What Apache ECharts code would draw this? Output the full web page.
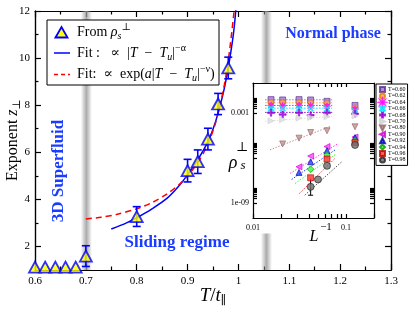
<!DOCTYPE html>
<html><head><meta charset="utf-8">
<script src="https://cdn.jsdelivr.net/npm/echarts@6/dist/echarts.min.js"></script>
<style>html,body{margin:0;padding:0;background:#fff}#c{width:415px;height:312px}</style>
</head><body><div id="c"></div>
<script>
// ---------- main panel data ----------
const tempT   = [0.6, 0.62, 0.64, 0.66, 0.68, 0.7, 0.8, 0.9, 0.92, 0.94, 0.96, 0.98];
const expZ    = [1.12, 1.12, 1.12, 1.12, 1.12, 1.59, 3.27, 5.22, 5.6, 6.56, 8.05, 9.58];
const expErr  = [0, 0, 0, 0, 0, 0.44, 0.42, 0.48, 0.5, 0.46, 0.45, 0.46];
const fitPowT = [0.75, 0.78, 0.8, 0.83, 0.86, 0.885, 0.9, 0.92, 0.94, 0.955, 0.97, 0.98, 0.99, 0.996];
const fitPowZ = [2.74, 3.0, 3.22, 3.6, 4.05, 4.62, 5.05, 5.68, 6.45, 7.3, 8.5, 9.6, 11.0, 12.3];
const fitExpT = [0.7, 0.73, 0.76, 0.8, 0.83, 0.86, 0.885, 0.9, 0.92, 0.94, 0.955, 0.97, 0.98, 0.99, 0.995];
const fitExpZ = [3.17, 3.24, 3.36, 3.6, 3.86, 4.24, 4.66, 5.0, 5.55, 6.35, 7.25, 8.6, 9.9, 11.7, 12.8];
const mainYLabels = [2, 4, 6, 8, 10, 12];
const mainYMinor  = [3, 5, 7, 9, 11];

// ---------- inset data ----------
const insetNames = ['T=0.60','T=0.62','T=0.64','T=0.66','T=0.68','T=0.70','T=0.80','T=0.90','T=0.92','T=0.94','T=0.96','T=0.98'];
const sizesL060 = [64, 48, 32, 24, 16, 8];
const sizesL080 = [48, 32, 24, 16, 8];
const sizesL090 = [32, 24, 16, 8];
const sizesL094 = [24, 16, 8];
const sizesL098 = [24, 20, 16, 8];
const rhoT060 = [7.8e-3, 7.4e-3, 7.8e-3, 7.4e-3, 6.0e-3, 3.2e-3];
const rhoT062 = [4.7e-3, 4.7e-3, 4.7e-3, 4.5e-3, 4.2e-3, 2.2e-3];
const rhoT064 = [3.2e-3, 3.0e-3, 3.2e-3, 3.0e-3, 2.8e-3, 1.8e-3];
const rhoT066 = [2.1e-3, 2.0e-3, 2.1e-3, 2.0e-3, 1.9e-3, 1.3e-3];
const rhoT068 = [1.05e-3, 7.9e-4, 1.05e-3, 7.1e-4, 1.05e-3, 8.9e-4];
const rhoT070 = [3.0e-4, 3.7e-4, 4.6e-4, 5.1e-4, 5.6e-4, 6.3e-4];
const rhoT080 = [8.7e-6, 2.1e-5, 5.0e-5, 6.5e-5, 1.2e-4];
const rhoT090 = [2.6e-7, 1.35e-6, 5.8e-6, 2.5e-5];
const rhoT092 = [1.1e-7, 5.6e-7, 3.1e-6, 2.3e-5];
const rhoT094 = [1.8e-7, 1.6e-6, 1.4e-5];
const rhoT096 = [4.8e-8, 8.5e-7, 1.1e-5];
const rhoT098 = [1.2e-8, 3.7e-8, 3.0e-7, 7.4e-6];
const errT098L = 24, errT098Lo = 3.3e-9, errT098Hi = 4.2e-8;
const insetFitX1 = [0.0135,0.0135,0.0135,0.0135,0.0135,0.0135,0.0152,0.025,0.026,0.0283,0.0315,0.036];
const insetFitX2 = [0.071,0.071,0.071,0.071,0.071,0.071,0.0673,0.081,0.078,0.078,0.0762,0.09];
const insetFitY1 = [7.6e-3,4.8e-3,3.2e-3,2.1e-3,1.1e-3,2.8e-4,3.5e-6,9.3e-8,3.7e-8,2.0e-8,4.3e-9,3.3e-9];
const insetFitY2 = [7.6e-3,4.8e-3,3.2e-3,2.1e-3,1.1e-3,6.0e-4,1.26e-4,8.7e-6,3.8e-6,1.86e-6,9.5e-7,5.6e-7];
const insetXTicks = [0.01,0.02,0.03,0.04,0.05,0.06,0.07,0.08,0.09,0.1,0.2];
const insetXLabels = [0.01, 0.1];
const insetYTicks = [1e-9,2e-9,3e-9,4e-9,5e-9,6e-9,7e-9,8e-9,9e-9,1e-6,2e-6,3e-6,4e-6,5e-6,6e-6,7e-6,8e-6,9e-6,1e-3,2e-3,3e-3,4e-3,5e-3,6e-3,7e-3,8e-3,9e-3];
const insetYLabels = [1e-9, 1e-3];

const SERIF = "'Liberation Serif','DejaVu Serif',serif";
const BLUE_TXT = '#1a3cff';

const insetSets = [
  {L: sizesL060, r: rhoT060, sym: 'rect', size: 6, color: 'rgba(150,100,205,0.9)', border: '#5b2c8f'},
  {L: sizesL060, r: rhoT062, sym: 'circle', size: 6, color: '#ffae42', border: '#e07b00'},
  {L: sizesL060, r: rhoT064, sym: 'path://M10,5L6.85,5.77L8.54,8.54L5.77,6.85L5,10L4.23,6.85L1.46,8.54L3.15,5.77L0,5L3.15,4.23L1.46,1.46L4.23,3.15L5,0L5.77,3.15L8.54,1.46L6.85,4.23Z', size: 7, color: '#ff00ff', border: '#ff00ff'},
  {L: sizesL060, r: rhoT066, sym: 'path://M0,1.5L1.5,0L5,3.5L8.5,0L10,1.5L6.5,5L10,8.5L8.5,10L5,6.5L1.5,10L0,8.5L3.5,5Z', size: 6, color: '#00e5ff', border: '#00e5ff'},
  {L: sizesL060, r: rhoT068, sym: 'path://M4,0H6V4H10V6H6V10H4V6H0V4H4Z', size: 7, color: '#9400d3', border: '#9400d3'},
  {L: sizesL060, r: rhoT070, sym: 'path://M0,0L10,5L0,10Z', size: 6, color: '#dedede', border: '#cfcfcf'},
  {L: sizesL080, r: rhoT080, sym: 'path://M0,0L10,0L5,10Z', size: 6, color: '#c09090', border: '#8e6464'},
  {L: sizesL090, r: rhoT090, sym: 'path://M10,0L0,5L10,10Z', size: 6, color: '#ff40ff', border: '#d000d0'},
  {L: sizesL090, r: rhoT092, sym: 'triangle', size: 6, color: '#1f3fff', border: '#0000a0'},
  {L: sizesL094, r: rhoT094, sym: 'diamond', size: 6.5, color: '#33ff33', border: '#009900'},
  {L: sizesL094, r: rhoT096, sym: 'rect', size: 6, color: '#ff3030', border: '#c00000'},
  {L: sizesL098, r: rhoT098, sym: 'circle', size: 7, color: '#6e6e6e', border: '#1e1e1e'}
];

const series = [];
const bandColor = {type: 'linear', x: 0, y: 0, x2: 1, y2: 0, colorStops: [
  {offset: 0, color: 'rgba(150,150,150,0)'}, {offset: 0.5, color: 'rgba(150,150,150,0.8)'}, {offset: 1, color: 'rgba(150,150,150,0)'}]};

series.push({
  type: 'line', name: 'fitPow', xAxisIndex: 0, yAxisIndex: 0, z: 3,
  data: fitPowT.map((t, i) => [t, fitPowZ[i]]), smooth: 0.3, symbol: 'none',
  lineStyle: {color: '#0000ff', width: 1.5},
  markArea: {silent: true, itemStyle: {color: bandColor}, data: [
    [{xAxis: 0.69}, {xAxis: 0.712}],
    [{xAxis: 1.044, yAxis: 8.94}, {xAxis: 1.066, yAxis: 12}],
    [{xAxis: 1.044, yAxis: 1}, {xAxis: 1.066, yAxis: 2.55}]
  ]}
});
series.push({
  type: 'line', name: 'fitExp', xAxisIndex: 0, yAxisIndex: 0, z: 3,
  data: fitExpT.map((t, i) => [t, fitExpZ[i]]), smooth: 0.3, symbol: 'none',
  lineStyle: {color: '#ff0000', width: 1.5, type: [6, 4]}
});
series.push({
  type: 'custom', name: 'errMain', xAxisIndex: 0, yAxisIndex: 0, z: 4,
  data: tempT.map((t, i) => [t, expZ[i] - expErr[i], expZ[i] + expErr[i]]).filter((d, i) => expErr[i] > 0),
  renderItem: function (params, api) {
    const x = api.value(0), lo = api.value(1), hi = api.value(2);
    const p1 = api.coord([x, hi]), p2 = api.coord([x, lo]);
    const st = {stroke: '#0000ff', lineWidth: 1.6};
    return {type: 'group', children: [
      {type: 'line', shape: {x1: p1[0], y1: p1[1], x2: p2[0], y2: p2[1]}, style: st},
      {type: 'line', shape: {x1: p1[0] - 4, y1: p1[1], x2: p1[0] + 4, y2: p1[1]}, style: st},
      {type: 'line', shape: {x1: p2[0] - 4, y1: p2[1], x2: p2[0] + 4, y2: p2[1]}, style: st}
    ]};
  }
});
series.push({
  type: 'scatter', name: 'main', xAxisIndex: 0, yAxisIndex: 0, z: 5,
  data: tempT.map((t, i) => [t, expZ[i]]), symbol: 'triangle', symbolSize: [12, 11],
  itemStyle: {color: '#ffff00', borderColor: '#0000ff', borderWidth: 1.8}
});

// inset fits
insetSets.forEach((s, k) => {
  series.push({
    type: 'line', name: 'fit' + k, xAxisIndex: 2, yAxisIndex: 4, z: 6, symbol: 'none',
    data: [[insetFitX1[k], insetFitY1[k]], [insetFitX2[k], insetFitY2[k]]],
    lineStyle: {color: s.border === '#1e1e1e' ? '#555' : s.color, width: 1, type: [1.5, 1.5]}
  });
});
series.push({
  type: 'custom', name: 'errInset', xAxisIndex: 2, yAxisIndex: 4, z: 7,
  data: [[1 / errT098L, errT098Lo, errT098Hi]],
  renderItem: function (params, api) {
    const x = api.value(0), lo = api.value(1), hi = api.value(2);
    const p1 = api.coord([x, hi]), p2 = api.coord([x, lo]);
    const st = {stroke: '#000', lineWidth: 1};
    return {type: 'group', children: [
      {type: 'line', shape: {x1: p1[0], y1: p1[1], x2: p2[0], y2: p2[1]}, style: st},
      {type: 'line', shape: {x1: p2[0] - 2.5, y1: p2[1], x2: p2[0] + 2.5, y2: p2[1]}, style: st}
    ]};
  }
});
insetSets.forEach((s, k) => {
  series.push({
    type: 'scatter', name: insetNames[k], xAxisIndex: 2, yAxisIndex: 4, z: 8,
    data: s.L.map((L, i) => [1 / L, s.r[i]]), symbol: s.sym, symbolSize: s.size,
    itemStyle: {color: s.color, borderColor: s.border, borderWidth: 0.8}
  });
});

const axLine = {show: true, lineStyle: {color: '#000', width: 1.2}};
const tickSt = {color: '#000', width: 1.2};
const lblSt = {fontFamily: SERIF, fontSize: 11, color: '#000'};
const inLbl = {fontFamily: SERIF, fontSize: 8, color: '#000'};
const fmtX = v => (Math.abs(v - 0.01) < 1e-6 ? '0.01' : (Math.abs(v - 0.1) < 1e-6 ? '0.1' : ''));
const fmtY = v => (Math.abs(Math.log10(v) + 3) < 0.01 ? '0.001' : (Math.abs(Math.log10(v) + 9) < 0.01 ? '1e-09' : ''));

const mainX = (pos, lbl) => ({
  type: 'value', gridIndex: 0, position: pos, min: 0.6, max: 1.3, interval: 0.1,
  axisLine: axLine, splitLine: {show: false},
  axisTick: {inside: true, length: 6, lineStyle: tickSt},
  minorTick: {show: true, splitNumber: 2, length: 3.5, lineStyle: tickSt},
  axisLabel: {show: lbl, margin: 6, ...lblSt}
});
const mainY = (pos, major) => ({
  type: 'value', gridIndex: 0, position: pos, min: 1, max: 12, interval: 1,
  axisLine: axLine, splitLine: {show: false},
  axisTick: {inside: true, length: major ? 6 : 3.5, lineStyle: tickSt, customValues: major ? mainYLabels : mainYMinor},
  axisLabel: {show: major && pos === 'left', margin: 5, customValues: mainYLabels, ...lblSt}
});
const insX = (pos) => ({
  type: 'log', logBase: 10, gridIndex: 1, position: pos, min: 0.01, max: 0.2, z: 9,
  axisLine: axLine, splitLine: {show: false},
  axisTick: {inside: true, length: 4, lineStyle: tickSt, customValues: insetXTicks},
  axisLabel: {show: pos === 'bottom', margin: 6, customValues: insetXLabels, formatter: fmtX, ...inLbl}
});
const insY = (pos) => ({
  type: 'log', logBase: 10, gridIndex: 1, position: pos, min: 1e-10, max: 0.1, z: 9,
  axisLine: axLine, splitLine: {show: false},
  axisTick: {inside: true, length: 4, lineStyle: tickSt, customValues: insetYTicks},
  axisLabel: {show: pos === 'left', margin: 4, customValues: insetYLabels, formatter: fmtY, ...inLbl}
});

const richMain = {
  n: {fontFamily: SERIF, fontSize: 14, lineHeight: 19, color: '#000'},
  i: {fontFamily: SERIF, fontSize: 14, fontStyle: 'italic', lineHeight: 19, color: '#000'},
  sub: {fontFamily: SERIF, fontSize: 10, fontStyle: 'italic', lineHeight: 10, verticalAlign: 'bottom', color: '#000'},
  sup: {fontFamily: SERIF, fontSize: 10, lineHeight: 10, verticalAlign: 'top', color: '#000'}
};

const graphics = [
  {type: 'rect', z: 20, shape: {x: 47, y: 20, width: 172, height: 65}, style: {fill: '#fff', stroke: '#000', lineWidth: 1}},
  {type: 'polygon', z: 21, shape: {points: [[55.5, 37.5], [61.5, 27], [67.5, 37.5]]}, style: {fill: '#ffff00', stroke: '#0000ff', lineWidth: 1.8}},
  {type: 'text', z: 21, x: 77, y: 32, style: {text: '{n|From }{i|ρ}{sub|s}{sup|⊥}', rich: richMain, verticalAlign: 'middle'}},
  {type: 'line', z: 21, shape: {x1: 54, y1: 53, x2: 70, y2: 53}, style: {stroke: '#0000ff', lineWidth: 1.5}},
  {type: 'text', z: 21, x: 77, y: 53, style: {text: '{n|Fit :   ∝  |}{i|T}{n|  −  }{i|T}{sub|u}{n||}{sup|−α}', rich: richMain, verticalAlign: 'middle'}},
  {type: 'line', z: 21, shape: {x1: 54, y1: 74.5, x2: 70, y2: 74.5}, style: {stroke: '#ff0000', lineWidth: 1.5, lineDash: [4, 3]}},
  {type: 'text', z: 21, x: 77, y: 74, style: {text: '{n|Fit:  ∝  exp(}{i|a}{n||}{i|T}{n|  −  }{i|T}{sub|u}{n||}{sup|−ν}{n|)}', rich: richMain, verticalAlign: 'middle'}},
  // axis titles
  {type: 'text', z: 21, x: 13, y: 140, rotation: Math.PI / 2, style: {text: '{n|Exponent }{i|z}{sub|⊥}', align: 'center', verticalAlign: 'middle', rich: {
    n: {fontFamily: SERIF, fontSize: 16, lineHeight: 20}, i: {fontFamily: SERIF, fontSize: 16, fontStyle: 'italic', lineHeight: 20},
    sub: {fontFamily: SERIF, fontSize: 11, lineHeight: 10, verticalAlign: 'bottom'}}}},
  {type: 'text', z: 21, x: 213, y: 296, style: {text: '{i|T}{n|/}{i|t}{sub|∥}', align: 'center', verticalAlign: 'middle', rich: {
    n: {fontFamily: SERIF, fontSize: 19, lineHeight: 22}, i: {fontFamily: SERIF, fontSize: 19, fontStyle: 'italic', lineHeight: 22},
    sub: {fontFamily: SERIF, fontSize: 12, lineHeight: 10, verticalAlign: 'bottom'}}}},
  // annotations
  {type: 'text', z: 21, x: 333, y: 34, style: {text: 'Normal phase', align: 'center', verticalAlign: 'middle', font: "bold 16px " + SERIF, fill: BLUE_TXT}},
  {type: 'text', z: 21, x: 177, y: 243, style: {text: 'Sliding regime', align: 'center', verticalAlign: 'middle', font: "bold 17px " + SERIF, fill: BLUE_TXT}},
  {type: 'text', z: 21, x: 58.5, y: 171, rotation: Math.PI / 2, style: {text: '3D Superfluid', align: 'center', verticalAlign: 'middle', font: "bold 17px " + SERIF, fill: BLUE_TXT}},
  // inset titles
  {type: 'text', z: 21, x: 233, y: 163, style: {text: 'ρ', align: 'center', verticalAlign: 'middle', font: "italic 18px " + SERIF, fill: '#000'}},
  {type: 'text', z: 21, x: 243, y: 166, style: {text: 's', align: 'center', verticalAlign: 'middle', font: "italic 13px " + SERIF, fill: '#000'}},
  {type: 'text', z: 21, x: 242, y: 148, style: {text: '⊥', align: 'center', verticalAlign: 'middle', font: "13px " + SERIF, fill: '#000'}},
  {type: 'text', z: 21, x: 314, y: 237, style: {text: 'L', align: 'center', verticalAlign: 'middle', font: "italic 16px " + SERIF, fill: '#000'}},
  {type: 'text', z: 21, x: 326, y: 227, style: {text: '−1', align: 'center', verticalAlign: 'middle', font: "11px " + SERIF, fill: '#000'}}
];

const option = {
  animation: false,
  backgroundColor: '#fff',
  grid: [
    {left: 35, top: 11, width: 356, height: 259},
    {left: 253, top: 83, width: 121, height: 135}
  ],
  xAxis: [mainX('bottom', true), mainX('top', false), insX('bottom'), insX('top')],
  yAxis: [mainY('left', true), mainY('left', false), mainY('right', true), mainY('right', false), insY('left'), insY('right')],
  legend: {
    data: insetNames, orient: 'vertical', left: 376, top: 84, itemWidth: 5, itemHeight: 5, itemGap: -0.6,
    padding: [2, 2, 2, 3], backgroundColor: '#fff', borderColor: '#000', borderWidth: 1, selectedMode: false,
    textStyle: {fontFamily: SERIF, fontSize: 6, lineHeight: 6, color: '#000', padding: [0, 0, 0, -2]}, z: 30
  },
  graphic: {elements: graphics},
  series: series
};
const chart = echarts.init(document.getElementById('c'));
chart.setOption(option);
</script></body></html>
